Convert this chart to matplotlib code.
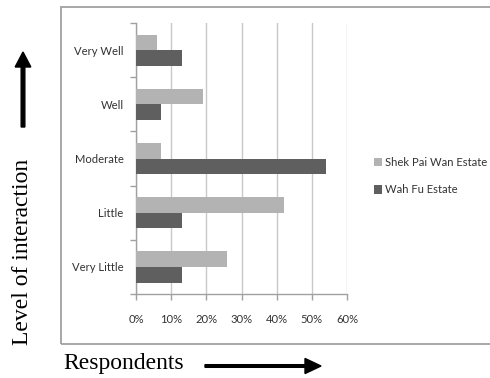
import matplotlib.pyplot as plt
import numpy as np
from matplotlib.patches import Rectangle, FancyArrow

# Dados da pesquisa (percentual de respondentes)
categorias = ['Very Little', 'Little', 'Moderate', 'Well', 'Very Well']
shek_pai_wan = [26, 42, 7, 19, 6]
wah_fu = [13, 13, 54, 7, 13]
ticks_x = [0, 10, 20, 30, 40, 50, 60]

fonte_excel = ['Lato', 'DejaVu Sans']
fonte_serif = 'Liberation Serif'
tam = 8.1

fig = plt.figure(figsize=(4.9, 3.78), dpi=100)
ax = fig.add_axes([0.2776, 0.222, 0.4306, 0.717])

# Moldura do gráfico
fig.patches.append(Rectangle((61 / 490, 1 - 344 / 378), 1.0, 337.5 / 378,
                             transform=fig.transFigure, fill=False,
                             edgecolor='#a0a0a0', linewidth=1.3, zorder=0))

y = np.arange(len(categorias))
h = 0.287
ax.barh(y + h / 2, shek_pai_wan, height=h, color='#b3b3b3',
        label='Shek Pai Wan Estate', zorder=3)
ax.barh(y - h / 2, wah_fu, height=h, color='#5f5f5f',
        label='Wah Fu Estate', zorder=3)

ax.set_xlim(0, 60)
ax.set_ylim(-0.5, len(categorias) - 0.5)

# Eixo horizontal
ax.set_xticks(ticks_x)
ax.set_xticklabels([f'{t}%' for t in ticks_x], fontsize=tam, family=fonte_excel,
                   color='#333333')
ax.tick_params(axis='x', length=4, width=1, color='#a0a0a0', pad=10)
ax.grid(axis='x', color='#c8c8c8', linewidth=1, zorder=0)

# Eixo vertical: marcas entre categorias, rótulos no centro
ax.set_yticks(np.arange(-0.5, len(categorias)), minor=False)
ax.set_yticklabels([])
ax.set_yticks(y, minor=True)
ax.set_yticklabels(categorias, minor=True, fontsize=tam, family=fonte_excel,
                   color='#333333')
ax.tick_params(axis='y', which='major', length=4, width=1, color='#a0a0a0')
ax.tick_params(axis='y', which='minor', length=0, pad=9)

for lado in ['top', 'right']:
    ax.spines[lado].set_visible(False)
for lado in ['left', 'bottom']:
    ax.spines[lado].set_color('#a0a0a0')
    ax.spines[lado].set_linewidth(1)

handles, labels = ax.get_legend_handles_labels()
fig.legend(handles, labels, loc='center left',
           bbox_to_anchor=(374 / 490, 1 - 176 / 378), frameon=False,
           prop={'family': fonte_excel, 'size': tam}, handlelength=0.75,
           handleheight=0.75, handletextpad=0.25, labelspacing=1.5,
           borderpad=0, borderaxespad=0, labelcolor='#333333')

# Títulos dos eixos com setas
fig.text(63 / 490, 1 - 363 / 378, 'Respondents', family=fonte_serif,
         fontsize=17, va='center', ha='left')
fig.patches.append(FancyArrow(205 / 490, 1 - 366 / 378, 100 / 490, 0,
                              width=0.007, head_width=0.04,
                              head_length=16 / 490, length_includes_head=False,
                              transform=fig.transFigure, color='black'))
fig.text(23 / 490, 1 - 252 / 378, 'Level of interaction', family=fonte_serif,
         fontsize=17, rotation=90, va='center', ha='center')
fig.patches.append(FancyArrow(23 / 490, 1 - 127 / 378, 0, 60 / 378,
                              width=0.0075, head_width=0.032,
                              head_length=15 / 378, length_includes_head=False,
                              transform=fig.transFigure, color='black'))

plt.savefig('out.png', dpi=100)
